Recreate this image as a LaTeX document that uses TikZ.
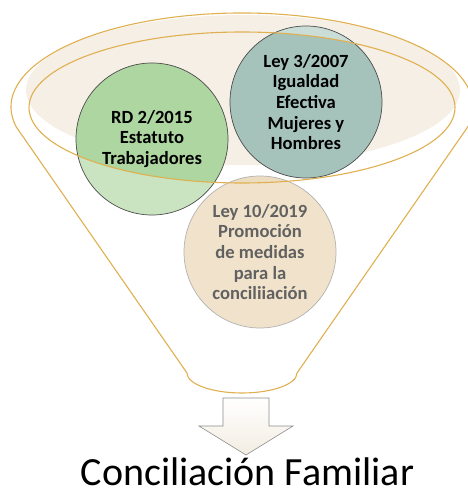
\documentclass[tikz,border=0pt]{standalone}
\usepackage{fontspec}
\setmainfont{Carlito}
\definecolor{funnelc}{RGB}{224,176,80}
\definecolor{bgfill}{RGB}{246,239,230}
\definecolor{greenD}{RGB}{174,214,160}
\definecolor{greenL}{RGB}{202,228,193}
\definecolor{tealD}{RGB}{165,195,187}
\definecolor{tealL}{RGB}{203,221,215}
\definecolor{beigeD}{RGB}{236,220,192}
\definecolor{beigeL}{RGB}{241,227,203}
\definecolor{arrowb}{RGB}{243,237,226}
\begin{document}
\begin{tikzpicture}[x=1pt,y=-1pt,
  bubble/.style={circle,minimum size=152pt,inner sep=0pt,draw=black!70,line width=0.7pt,
    align=center,font=\bfseries\fontsize{18.6}{20.7}\selectfont},
  funnelline/.style={draw=funnelc,line width=1.1pt},
  arrowstyle/.style={draw=black!45,line width=0.6pt,top color=white,bottom color=arrowb}]
\useasboundingbox (0,0) rectangle (467,492);
% background fill ellipse
\fill[bgfill] (243,90) ellipse [x radius=217pt, y radius=75pt];
% light circle fills
\fill[greenL] (152,139) circle [radius=76pt];
\fill[tealL] (306,102) circle [radius=76pt];
\fill[beigeL] (260,252) circle [radius=76pt];
% darker parts inside inner ellipse
\begin{scope}
  \clip (242,107.5) ellipse [x radius=213pt, y radius=75.5pt];
  \fill[greenD] (152,139) circle [radius=76pt];
  \fill[tealD] (306,102) circle [radius=76pt];
  \fill[beigeD] (260,252) circle [radius=76pt];
\end{scope}
% circle nodes
\node[bubble] (rd) at (152,139) {RD 2/2015\\Estatuto\\Trabajadores};
\node[bubble] (ley3) at (306,102) {Ley 3/2007\\Igualdad\\Efectiva\\Mujeres y\\Hombres};
\node[bubble,draw=black!30,text=black!62] (ley10) at (260,252) {Ley 10/2019\\Promoción\\de medidas\\para la\\conciliiación};
% funnel outline
\coordinate (fl) at (16.3,127);
\coordinate (br) at (297,373);
\draw[funnelline,line join=round] (fl) arc [start angle=192.3, end angle=-12.3, x radius=231pt, y radius=94pt]
  -- (br) arc [start angle=0, end angle=-180, x radius=55pt, y radius=20pt] -- cycle;
% inner ellipse
\draw[funnelline] (242,107.5) ellipse [x radius=213pt, y radius=75.5pt];
% arrow
\draw[arrowstyle] (223,398) -- (269,398) -- (269,426) -- (293,426) -- (246,455) -- (199,426) -- (223,426) -- cycle;
% result text
\node[anchor=base,inner sep=0pt,font=\fontsize{40}{46}\selectfont] (res) at (247.5,485) {Conciliación Familiar};
\end{tikzpicture}
\end{document}
